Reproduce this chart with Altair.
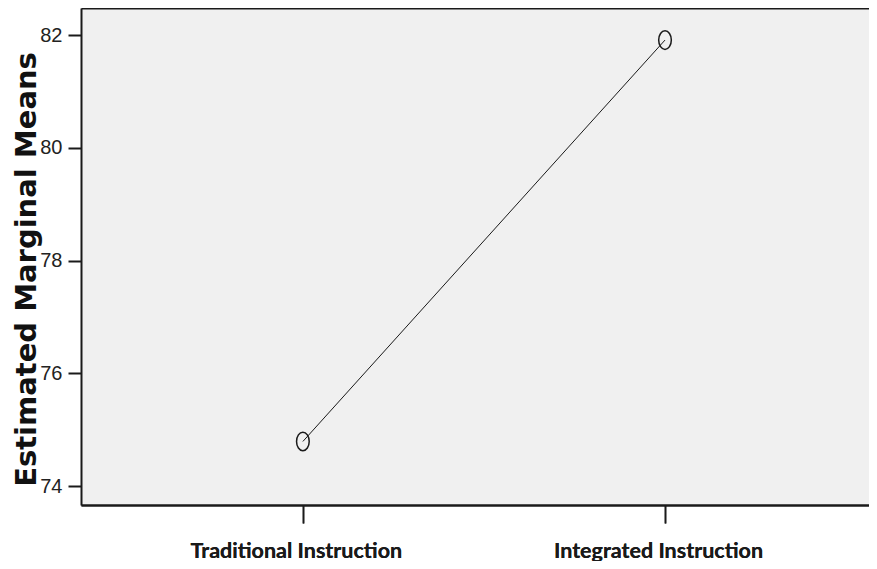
import altair as alt
import pandas as pd

categories = ["Traditional Instruction", "Integrated Instruction"]
means = [74.79, 81.91]
y_ticks = [74, 76, 78, 80, 82]

data = pd.DataFrame({"method": categories, "mean": means})

INK = "#1a1a1a"
x_scale = alt.Scale(type="point", padding=0.588, align=0.521)

x_enc = alt.X(
    "method:N",
    sort=categories,
    scale=x_scale,
    axis=alt.Axis(
        title=None,
        orient="bottom",
        domain=True,
        domainWidth=2,
        domainColor=INK,
        grid=False,
        ticks=True,
        tickSize=18,
        tickWidth=1.6,
        tickColor=INK,
        labelFont="Lato",
        labelFontWeight="bold",
        labelFontSize=21.5,
        labelColor=INK,
        labelBaseline="alphabetic",
        labelPadding=34,
        labelOffset=-7,
        labelAngle=0,
        labelLimit=0,
    ),
)

x_top = alt.X(
    "method:N",
    sort=categories,
    scale=x_scale,
    axis=alt.Axis(
        title=None,
        orient="top",
        domain=True,
        domainWidth=2,
        domainColor=INK,
        grid=False,
        ticks=False,
        labels=False,
    ),
)

y_enc = alt.Y(
    "mean:Q",
    scale=alt.Scale(domain=[73.663, 82.479], nice=False, zero=False),
    axis=alt.Axis(
        title="Estimated Marginal Means",
        values=y_ticks,
        domain=True,
        domainWidth=2,
        domainColor=INK,
        grid=False,
        tickSize=13,
        tickWidth=2,
        tickColor=INK,
        labelFont="Liberation Sans Narrow, Arial Narrow, Liberation Sans, sans-serif",
        labelFontSize=20,
        labelColor="#222222",
        labelPadding=6,
        titleFont="DejaVu Sans",
        titleFontWeight="bold",
        titleFontSize=29,
        titleColor="#111111",
        titleAngle=270,
        titleAlign="center",
        titleBaseline="alphabetic",
        titleX=-46,
        titleY=261,
    ),
)

base = alt.Chart(data)

line = base.mark_line(color=INK, strokeWidth=1).encode(x=x_enc, y=y_enc)

ellipse = "M0,-1A0.68,1 0 1,1 0,1A0.68,1 0 1,1 0,-1Z"
points = base.mark_point(
    shape=ellipse, filled=False, size=346, color=INK, strokeWidth=1.5, opacity=1
).encode(x=x_enc, y=y_enc)

top_border = base.mark_point(opacity=0).encode(x=x_top, y=y_enc)

chart = (
    alt.layer(line, points, top_border)
    .resolve_axis(x="independent")
    .properties(
        width=788,
        height=497,
        padding={"left": 73, "top": 0, "right": 0, "bottom": 56},
        autosize=alt.AutoSizeParams(type="none"),
        background="white",
    )
    .configure_view(fill="#F0F0F0", stroke=None)
)

chart.save("out.html", embed_options={"renderer": "svg", "actions": False})
